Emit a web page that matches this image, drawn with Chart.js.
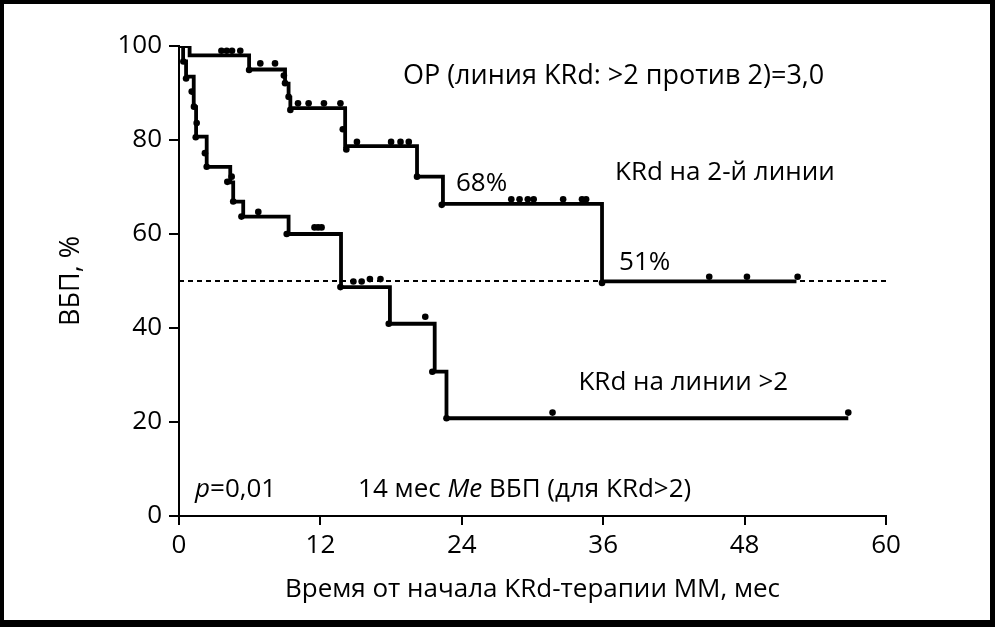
<!DOCTYPE html>
<html>
<head>
<meta charset="utf-8">
<script src="https://cdn.jsdelivr.net/npm/chart.js@4/dist/chart.umd.min.js"></script>
<style>
  html, body { margin: 0; padding: 0; background: #fff; }
  #wrap { width: 995px; height: 627px; position: relative; }
</style>
</head>
<body>
<div id="wrap"><canvas id="km"></canvas></div>
<script>
// KRd на 2-й линии: time of each step (months) and survival after it (%)
const line2Times = [0, 0.9, 5.95, 9.0, 9.3, 9.45, 14.1, 20.2, 22.4, 35.9, 52.4];
const line2Surv  = [100, 98, 95, 92, 89, 86.8, 78.7, 72.2, 66.4, 49.9, 49.9];

// KRd на линии >2
const lineGt2Times = [0, 0.35, 0.6, 1.25, 1.45, 2.35, 4.35, 4.6, 5.45, 9.3, 13.75, 17.9, 21.7, 22.7, 56.8];
const lineGt2Surv  = [100, 96.7, 93.5, 87, 80.7, 74.3, 71, 66.9, 63.7, 60.0, 48.7, 40.9, 30.7, 20.8, 20.8];

// censored observations (dots)
const cens2Times = [3.6, 4.05, 4.5, 5.2, 5.95, 6.9, 8.15, 8.9, 9.0, 9.3, 9.45, 10.1, 11.0, 12.3, 13.7,
                    13.9, 14.2, 15.1, 18.0, 18.8, 19.5, 20.2, 22.3, 28.2, 28.9, 29.6, 30.1, 32.6, 34.2, 34.55,
                    35.9, 45.0, 48.2, 52.5];
const cens2Surv  = [99, 99, 99, 99, 94.9, 96.3, 96.3, 93.7, 92.1, 89.2, 86.4, 87.8, 87.8, 87.8, 87.8,
                    82.3, 78, 79.6, 79.6, 79.6, 79.6, 72.2, 66.2, 67.4, 67.4, 67.4, 67.4, 67.4, 67.4, 67.4,
                    49.6, 50.9, 50.9, 50.9];

const censGt2Times = [0.37, 0.6, 1.08, 1.27, 1.5, 1.42, 2.2, 2.35, 4.1, 4.47, 4.6, 5.3, 6.73, 9.14,
                      11.5, 11.8, 12.1, 13.7, 14.8, 15.5, 16.2, 17.1, 17.8, 20.9, 21.5, 22.7, 31.7, 56.8];
const censGt2Surv  = [96.7, 93.1, 90.3, 87.1, 83.6, 80.6, 77.2, 74.3, 71.1, 72.2, 66.9, 63.7, 64.7, 60.0,
                      61.4, 61.4, 61.4, 48.7, 49.9, 49.9, 50.4, 50.4, 40.9, 42.4, 30.7, 20.8, 22.0, 22.0];

const medianLevel = 50;
const xTicks = [0, 12, 24, 36, 48, 60];
const yTicks = [0, 20, 40, 60, 80, 100];

const zip = (xs, ys) => xs.map((x, i) => ({ x: x, y: ys[i] }));

// text labels placed in data coordinates
const notes = [
  { x: 19.0, y: 93.5, size: 27, parts: [{ t: "ОР (линия KRd: >2 против 2)=3,0" }] },
  { x: 37.0, y: 73.0, size: 26, parts: [{ t: "KRd на 2-й линии" }] },
  { x: 23.5, y: 70.8, size: 26, parts: [{ t: "68%" }] },
  { x: 37.35, y: 54.0, size: 26, parts: [{ t: "51%" }] },
  { x: 33.9, y: 28.3, size: 26, parts: [{ t: "KRd на линии >2" }] },
  { x: 1.36, y: 5.6, size: 26, parts: [{ t: "p", it: true }, { t: "=0,01" }] },
  { x: 15.2, y: 5.6, size: 26, parts: [{ t: "14 мес " }, { t: "Me", it: true }, { t: " ВБП (для KRd>2)" }] }
];

const notesPlugin = {
  id: "notes",
  afterDatasetsDraw(chart) {
    const ctx = chart.ctx;
    const xs = chart.scales.x, ys = chart.scales.y;
    ctx.save();
    ctx.fillStyle = "#000";
    ctx.textBaseline = "middle";
    ctx.textAlign = "left";
    notes.forEach(n => {
      let off = xs.getPixelForValue(n.x);
      const py = ys.getPixelForValue(n.y);
      n.parts.forEach(p => {
        ctx.font = (p.it ? "italic " : "") + n.size + "px 'Open Sans'";
        ctx.fillText(p.t, off, py);
        off += ctx.measureText(p.t).width;
      });
    });
    ctx.restore();
  },
  afterDraw(chart) {
    // black frame around the picture
    const ctx = chart.ctx;
    const w = chart.width, h = chart.height;
    ctx.save();
    ctx.fillStyle = "#000";
    ctx.fillRect(0, 0, w, 4);
    ctx.fillRect(0, 0, 4, h);
    ctx.fillRect(w - 5, 0, 5, h);
    ctx.fillRect(0, h - 7, w, 7);
    ctx.restore();
  }
};

const stepStyle = {
  showLine: true,
  stepped: "before",
  borderColor: "#000",
  borderWidth: 3.8,
  pointRadius: 0,
  fill: false
};
const dotStyle = {
  showLine: false,
  pointRadius: 3.3,
  pointBackgroundColor: "#000",
  pointBorderColor: "#000",
  pointBorderWidth: 0
};

new Chart(document.getElementById("km"), {
  type: "scatter",
  data: {
    datasets: [
      Object.assign({ label: "cens2", data: zip(cens2Times, cens2Surv) }, dotStyle),
      Object.assign({ label: "censGt2", data: zip(censGt2Times, censGt2Surv) }, dotStyle),
      Object.assign({ label: "KRd на 2-й линии", data: zip(line2Times, line2Surv) }, stepStyle),
      Object.assign({ label: "KRd на линии >2", data: zip(lineGt2Times, lineGt2Surv) }, stepStyle),
      {
        label: "median",
        data: [{ x: xTicks[0], y: medianLevel }, { x: xTicks[xTicks.length - 1], y: medianLevel }],
        showLine: true,
        borderColor: "#000",
        borderWidth: 2,
        borderDash: [5, 4],
        pointRadius: 0
      }
    ]
  },
  options: {
    responsive: true,
    maintainAspectRatio: false,
    animation: false,
    layout: { padding: { left: 0, right: 109, top: 46, bottom: 0 } },
    plugins: { legend: { display: false }, tooltip: { enabled: false } },
    scales: {
      x: {
        type: "linear",
        min: 0,
        max: 60,
        afterBuildTicks: s => { s.ticks = xTicks.map(v => ({ value: v })); },
        afterFit: s => { s.height = 111; },
        border: { display: true, color: "#000", width: 2 },
        grid: { drawOnChartArea: false, drawTicks: true, tickLength: 9, color: "#000", lineWidth: 2 },
        ticks: { color: "#000", padding: 5, font: { family: "'Open Sans'", size: 26 } },
        title: {
          display: true,
          text: "Время от начала KRd-терапии ММ, мес",
          color: "#000",
          font: { family: "'Open Sans'", size: 26 },
          padding: { top: 0, bottom: 22 }
        }
      },
      y: {
        min: 0,
        max: 100,
        afterBuildTicks: s => { s.ticks = yTicks.map(v => ({ value: v })); },
        afterFit: s => { s.width = 179; },
        border: { display: true, color: "#000", width: 2 },
        grid: { drawOnChartArea: false, drawTicks: true, tickLength: 10, color: "#000", lineWidth: 2 },
        ticks: { color: "#000", padding: 7, font: { family: "'Open Sans'", size: 26 } },
        title: {
          display: true,
          text: "ВБП, %",
          color: "#000",
          font: { family: "'Open Sans'", size: 27 },
          padding: { top: 55, bottom: 0 }
        }
      }
    }
  },
  plugins: [notesPlugin]
});
</script>
</body>
</html>
